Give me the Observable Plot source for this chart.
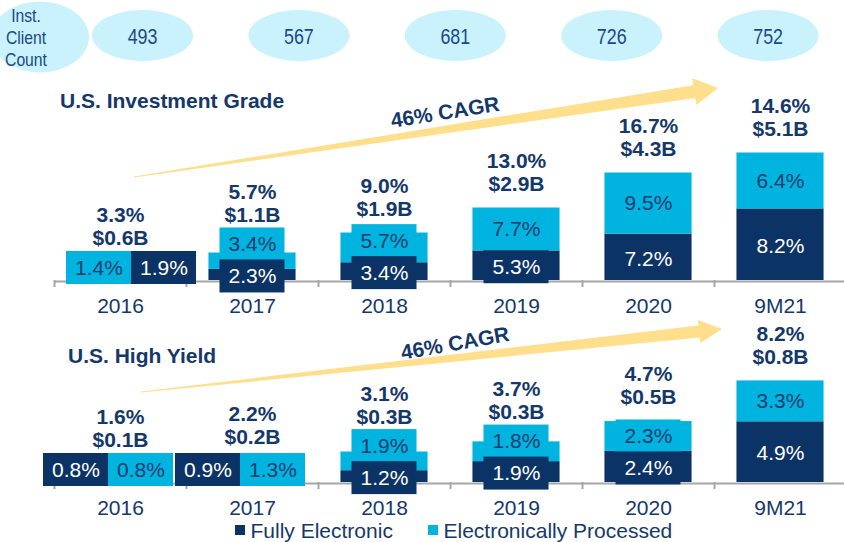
<!DOCTYPE html>
<html><head><meta charset="utf-8">
<script src="https://cdn.jsdelivr.net/npm/d3@7"></script>
<script src="https://cdn.jsdelivr.net/npm/@observablehq/plot@0.6"></script>
<style>
html,body{margin:0;padding:0;background:#fff;}
#chart{position:relative;width:844px;height:542px;overflow:hidden;font-family:"Liberation Sans",Arial,Helvetica,sans-serif;}
#chart > svg{position:absolute;left:0;}
</style></head><body><div id="chart"></div>
<script>
// ---------------- data ----------------
const categories = ["2016","2017","2018","2019","2020","9M21"];
const clientCount = [493, 567, 681, 726, 752];
const clientCountLabel = ["Inst.", "Client", "Count"];
const seriesNames = ["Fully Electronic", "Electronically Processed"];

const igTitle = "U.S. Investment Grade";
const igFully = [1.9, 2.3, 3.4, 5.3, 7.2, 8.2];
const igProcessed = [1.4, 3.4, 5.7, 7.7, 9.5, 6.4];
const igTotalPct = [3.3, 5.7, 9.0, 13.0, 16.7, 14.6];
const igVolume = [0.6, 1.1, 1.9, 2.9, 4.3, 5.1];          // $B labels
const igBarVolume = [0.6, 1.1, 1.9, 2.9, 4.3, 5.1];       // $B bar heights

const hyTitle = "U.S. High Yield";
const hyFully = [0.8, 0.9, 1.2, 1.9, 2.4, 4.9];
const hyProcessed = [0.8, 1.3, 1.9, 1.8, 2.3, 3.3];
const hyTotalPct = [1.6, 2.2, 3.1, 3.7, 4.7, 8.2];
const hyVolume = [0.1, 0.2, 0.3, 0.3, 0.5, 0.8];          // $B labels
const hyBarVolume = [0.1, 0.17, 0.24, 0.32, 0.48, 0.8];   // $B bar heights

const cagrLabel = "46% CAGR";

// ---------------- style ----------------
const DARK = "#0C3365", LIGHT = "#00B4DF", NAVY = "#15386B", ON_LIGHT = "#163C6F";
const AXIS = "#A6A6A6", GOLD = "#FFDE8C", ELL = "#C9F2FC", ELL_TEXT = "#1B4888";
const FONT = '"Liberation Sans", Arial, Helvetica, sans-serif';

const chart = document.getElementById("chart");

function buildPanel(cfg) {
  const {top, height, baseline, pxPer, fully, processed, totalPct, volume, barVolume, side, sideShift} = cfg;
  const base = baseline - top;
  const yMax = base / pxPer;
  const y = d3.scaleLinear([0, yMax], [base, 0]);
  const xb = d3.scaleBand(categories, [54, 846]).paddingInner(0.34).paddingOuter(0.17);
  const bw = xb.bandwidth(), step = xb.step();
  const segs = [], boxes = [], totals = [];
  categories.forEach((c, i) => {
    const f = fully[i], p = processed[i], v = barVolume[i];
    const fv = v * f / (f + p);
    segs.push({cat: c, series: seriesNames[0], y1: 0, y2: fv});
    segs.push({cat: c, series: seriesNames[1], y1: fv, y2: v});
    const vals = {[seriesNames[0]]: f, [seriesNames[1]]: p};
    let boxTop;
    if (side[c]) {
      const cy = base - 12.5;
      side[c].forEach((s, k) => boxes.push({cat: c, series: s, cy, dx: sideShift + (k === 0 ? -32.5 : 32.5), text: vals[s].toFixed(1) + "%"}));
      boxTop = cy - 16.5;
    } else {
      const dc = y(fv / 2) + 1.5;
      const lc = Math.min(y((fv + v) / 2), dc - 32);
      boxes.push({cat: c, series: seriesNames[0], cy: dc, dx: 0, text: f.toFixed(1) + "%"});
      boxes.push({cat: c, series: seriesNames[1], cy: lc, dx: 0, text: p.toFixed(1) + "%"});
      boxTop = lc - 16;
    }
    const dollarY = Math.min(y(v) - 24, boxTop - 13);
    totals.push({cat: c, py: dollarY, text: "$" + volume[i].toFixed(1) + "B"});
    totals.push({cat: c, py: dollarY - 23, text: totalPct[i].toFixed(1) + "%"});
  });

  const marks = [
    Plot.ruleY([0], {stroke: AXIS, strokeWidth: 2, insetLeft: 54, dy: 1}),
    Plot.ruleX(categories, {x: d => d, y1: 0, y2: y.invert(base + 7), stroke: AXIS, strokeWidth: 2, dx: -step / 2}),
    Plot.barY(segs, {x: "cat", y1: "y1", y2: "y2", fill: "series"})
  ];
  const ins = (bw - 65) / 2;
  for (const s of [seriesNames[1], seriesNames[0]]) {
    const groups = d3.group(boxes.filter(b => b.series === s), b => b.dx);
    for (const [dx, g] of groups) {
      marks.push(Plot.barY(g, {x: "cat", y1: b => y.invert(b.cy + 16.5), y2: b => y.invert(b.cy - 16.5),
        fill: s === seriesNames[0] ? DARK : LIGHT, insetLeft: ins, insetRight: ins, dx}));
      marks.push(Plot.text(g, {x: "cat", y: b => y.invert(b.cy), text: "text",
        fill: s === seriesNames[0] ? "#FFFFFF" : ON_LIGHT, fontSize: 21, dx}));
    }
  }
  marks.push(Plot.text(totals, {x: "cat", y: t => y.invert(t.py), text: "text", fill: NAVY, fontSize: 21, fontWeight: "bold"}));
  marks.push(Plot.text(categories, {x: d => d, y: y.invert(base + 25.5), text: d => d, fill: NAVY, fontSize: 21}));

  const svg = Plot.plot({
    width: 844, height,
    marginTop: 0, marginRight: 0, marginBottom: 0, marginLeft: 0,
    x: {type: "band", domain: categories, range: [54, 846], paddingInner: 0.34, paddingOuter: 0.17, round: false, axis: null},
    y: {type: "linear", domain: [0, yMax], range: [base, 0], axis: null},
    color: {domain: seriesNames, range: [DARK, LIGHT]},
    style: {background: "transparent", overflow: "visible", fontFamily: FONT},
    marks
  });
  svg.style.position = "absolute";
  svg.style.top = top + "px";
  svg.style.left = "0px";
  chart.appendChild(svg);
}

buildPanel({top: 80, height: 240, baseline: 280, pxPer: 25,
  fully: igFully, processed: igProcessed, totalPct: igTotalPct, volume: igVolume, barVolume: igBarVolume,
  side: {"2016": [seriesNames[1], seriesNames[0]]}, sideShift: 11});

buildPanel({top: 320, height: 222, baseline: 482, pxPer: 127,
  fully: hyFully, processed: hyProcessed, totalPct: hyTotalPct, volume: hyVolume, barVolume: hyBarVolume,
  side: {"2016": [seriesNames[0], seriesNames[1]], "2017": [seriesNames[0], seriesNames[1]]}, sideShift: -12});

// ---------------- overlay: client counts, titles, arrows, legend ----------------
const ov = d3.create("svg").attr("width", 844).attr("height", 542)
  .style("position", "absolute").style("top", "0px").style("left", "0px")
  .style("font-family", FONT).style("pointer-events", "none");

// client count ellipses
ov.append("ellipse").attr("cx", 40).attr("cy", 37).attr("rx", 49).attr("ry", 35.5).attr("fill", ELL);
clientCountLabel.forEach((t, k) => {
  ov.append("text").attr("transform", `translate(26,${16 + k * 22}) scale(0.85,1)`)
    .attr("text-anchor", "middle").attr("dy", "0.35em").attr("font-size", 18.5).attr("fill", ELL_TEXT).text(t);
});
clientCount.forEach((v, i) => {
  const cx = 142.5 + i * 156.4;
  ov.append("ellipse").attr("cx", cx).attr("cy", 35.5).attr("rx", 50.5).attr("ry", 25.5).attr("fill", ELL);
  ov.append("text").attr("transform", `translate(${cx},36) scale(0.83,1)`)
    .attr("text-anchor", "middle").attr("dy", "0.35em").attr("font-size", 21.5).attr("fill", ELL_TEXT).text(v);
});

// titles
ov.append("text").attr("x", 60).attr("y", 107.5).attr("font-size", 21).attr("font-weight", "bold").attr("fill", NAVY).text(igTitle);
ov.append("text").attr("x", 68).attr("y", 362.5).attr("font-size", 21).attr("font-weight", "bold").attr("fill", NAVY).text(hyTitle);

// arrows
function arrow(x0, y0, x1, y1, w0, w1, headLen, headHalf) {
  const L = Math.hypot(x1 - x0, y1 - y0), ang = Math.atan2(y1 - y0, x1 - x0) * 180 / Math.PI;
  const pts = [[0, -w0 / 2], [L - headLen, -w1 / 2], [L - headLen, -headHalf], [L, 0], [L - headLen, headHalf], [L - headLen, w1 / 2], [0, w0 / 2]];
  ov.append("polygon").attr("points", pts.map(p => p.join(",")).join(" ")).attr("fill", GOLD)
    .attr("transform", `translate(${x0},${y0}) rotate(${ang})`);
}
arrow(134, 177, 718, 88, 1, 13, 24, 13.5);
arrow(141, 392, 722, 329, 1, 12, 23, 11.5);

function cagr(x, yv, ang) {
  ov.append("text").attr("transform", `translate(${x},${yv}) rotate(${ang})`).attr("text-anchor", "middle")
    .attr("dy", "0.35em").attr("font-size", 21).attr("font-weight", "bold").attr("fill", NAVY).text(cagrLabel);
}
cagr(445, 112, -9);
cagr(455, 343, -10);

// legend
const legendX = [235, 428];
seriesNames.forEach((s, i) => {
  ov.append("rect").attr("x", legendX[i]).attr("y", 525).attr("width", 10).attr("height", 10).attr("fill", i === 0 ? DARK : LIGHT);
  ov.append("text").attr("x", legendX[i] + 15.5).attr("y", 537.5).attr("font-size", 21).attr("fill", NAVY).text(s);
});

chart.appendChild(ov.node());
</script></body></html>
